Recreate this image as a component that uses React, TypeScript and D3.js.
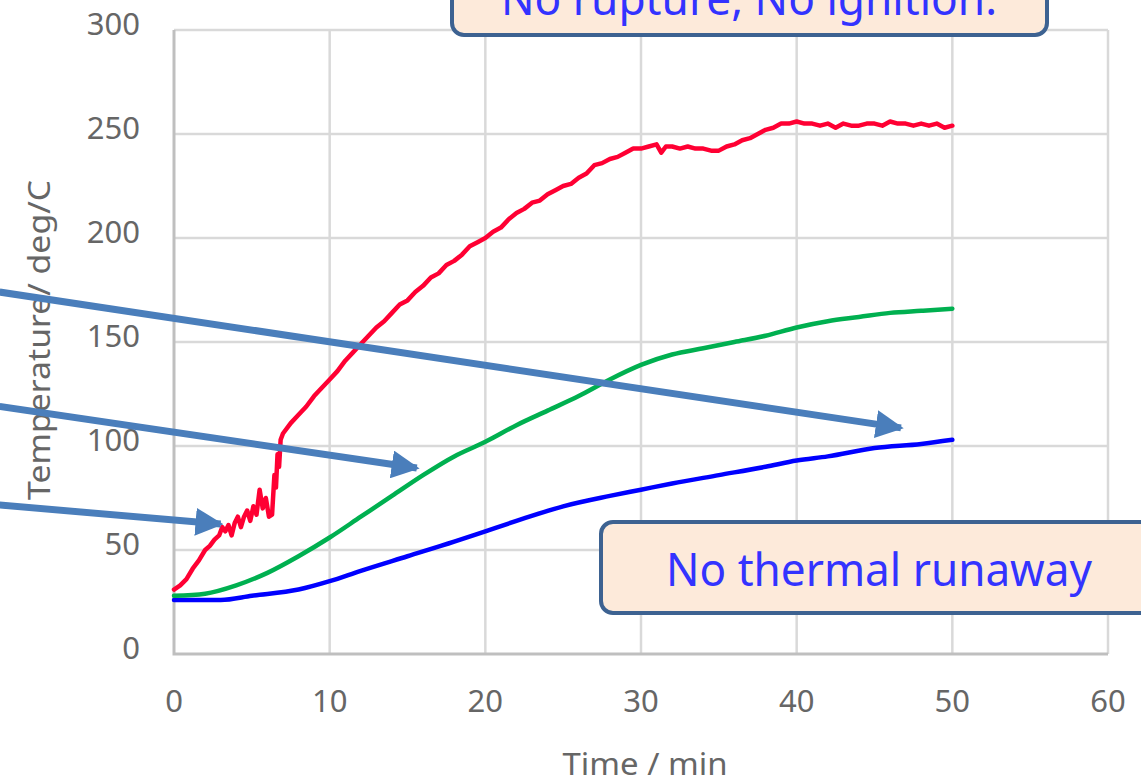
import React, { useEffect, useRef } from "react";
import * as d3 from "d3";

// time (min), temperature (deg C)
const redTime = [0, 0.4, 0.8, 1.2, 1.6, 2.0, 2.3, 2.6, 2.9, 3.1, 3.3, 3.5, 3.7, 3.9, 4.1, 4.3, 4.5, 4.7, 4.9, 5.1, 5.3, 5.5, 5.7, 5.9, 6.1, 6.3, 6.45, 6.55, 6.65, 6.75, 6.85, 7.0, 7.5, 8, 8.5, 9, 9.5, 10, 10.5, 11, 11.5, 12, 12.5, 13, 13.5, 14, 14.5, 15, 15.5, 16, 16.5, 17, 17.5, 18, 18.5, 19, 19.5, 20, 20.5, 21, 21.5, 22, 22.5, 23, 23.5, 24, 24.5, 25, 25.5, 26, 26.5, 27, 27.5, 28, 28.5, 29, 29.5, 30, 30.5, 31, 31.3, 31.6, 32, 32.5, 33, 33.5, 34, 34.5, 35, 35.5, 36, 36.5, 37, 37.5, 38, 38.5, 39, 39.5, 40, 40.5, 41, 41.5, 42, 42.5, 43, 43.5, 44, 44.5, 45, 45.5, 46, 46.5, 47, 47.5, 48, 48.5, 49, 49.5, 50];
const redTemp = [31, 33, 36, 41, 45, 50, 52, 55, 57, 61, 59, 62, 57, 63, 66, 61, 66, 69, 64, 71, 67, 79, 70, 75, 66, 67, 86, 80, 96, 90, 103, 106, 111, 115, 119, 124, 128, 132, 136, 141, 145, 149, 153, 157, 160, 164, 168, 170, 174, 177, 181, 183, 187, 189, 192, 196, 198, 200, 203, 205, 209, 212, 214, 217, 218, 221, 223, 225, 226, 229, 231, 235, 236, 238, 239, 241, 243, 243, 244, 245, 241, 244, 244, 243, 244, 243, 243, 242, 242, 244, 245, 247, 248, 250, 252, 253, 255, 255, 256, 255, 255, 254, 255, 253, 255, 254, 254, 255, 255, 254, 256, 255, 255, 254, 255, 254, 255, 253, 254];

const greenTime = [0, 2, 4, 6, 8, 10, 12, 14, 16, 18, 20, 22, 24, 26, 28, 30, 32, 34, 36, 38, 40, 42, 44, 46, 48, 50];
const greenTemp = [28, 29, 33, 39, 47, 56, 66, 76, 86, 95, 102, 110, 117, 124, 132, 139, 144, 147, 150, 153, 157, 160, 162, 164, 165, 166];

const blueTime = [0, 3, 5, 8, 10, 12, 15, 18, 20, 22, 25, 28, 30, 32, 35, 38, 40, 42, 45, 48, 50];
const blueTemp = [26, 26, 28, 31, 35, 40, 47, 54, 59, 64, 71, 76, 79, 82, 86, 90, 93, 95, 99, 101, 103];

const xTicks = [0, 10, 20, 30, 40, 50, 60];
const yTicks = [0, 50, 100, 150, 200, 250, 300];

// annotation arrows in data units: [x1, y1, x2, y2]
const arrows = [
  [-11.2, 174, 46.7, 108.7],
  [-11.2, 119, 15.6, 89.4],
  [-11.2, 71.6, 3.0, 62.5],
];

const topNote = "No rupture, No ignition.";
const bottomNote = "No thermal runaway";

const W = 1141;
const H = 783;
const FONT = "'Noto Sans', 'Open Sans', sans-serif";

export default function App() {
  const ref = useRef<SVGSVGElement>(null);

  useEffect(() => {
    const svg = d3.select(ref.current);
    const x = d3.scaleLinear().domain([0, 60]).range([174, 1108]);
    const y = d3.scaleLinear().domain([0, 300]).range([654, 30]);

    // grid
    svg
      .append("g")
      .selectAll("line")
      .data(xTicks.slice(1))
      .join("line")
      .attr("x1", d => x(d))
      .attr("x2", d => x(d))
      .attr("y1", y(0))
      .attr("y2", y(300))
      .attr("stroke", "#d9d9d9")
      .attr("stroke-width", 2.5);
    svg
      .append("g")
      .selectAll("line")
      .data(yTicks.slice(1))
      .join("line")
      .attr("x1", x(0))
      .attr("x2", x(60))
      .attr("y1", d => y(d))
      .attr("y2", d => y(d))
      .attr("stroke", "#d9d9d9")
      .attr("stroke-width", 2.5);

    // axes lines
    svg
      .append("path")
      .attr("d", `M${x(0)},${y(300)}V${y(0)}H${x(60)}`)
      .attr("fill", "none")
      .attr("stroke", "#bfbfbf")
      .attr("stroke-width", 3);

    // tick labels
    svg
      .append("g")
      .selectAll("text")
      .data(xTicks)
      .join("text")
      .attr("x", d => x(d))
      .attr("y", 712)
      .attr("text-anchor", "middle")
      .attr("font-size", 31)
      .attr("font-family", FONT)
      .attr("fill", "#666")
      .text(d => d);
    svg
      .append("g")
      .selectAll("text")
      .data(yTicks)
      .join("text")
      .attr("x", 140)
      .attr("y", d => y(d) + 5)
      .attr("text-anchor", "end")
      .attr("font-size", 31)
      .attr("font-family", FONT)
      .attr("fill", "#666")
      .text(d => d);

    // axis titles
    svg
      .append("text")
      .attr("x", 645)
      .attr("y", 775)
      .attr("text-anchor", "middle")
      .attr("font-size", 31)
      .attr("font-family", FONT)
      .attr("fill", "#666")
      .attr("textLength", 165)
      .attr("lengthAdjust", "spacingAndGlyphs")
      .text("Time / min");
    svg
      .append("text")
      .attr("transform", "translate(50,340) rotate(-90)")
      .attr("text-anchor", "middle")
      .attr("font-size", 31)
      .attr("font-family", FONT)
      .attr("fill", "#666")
      .attr("textLength", 320)
      .attr("lengthAdjust", "spacingAndGlyphs")
      .text("Temperature/ deg/C");

    // series
    const series = [
      { t: blueTime, v: blueTemp, color: "#0000ff", curve: d3.curveMonotoneX },
      { t: greenTime, v: greenTemp, color: "#00b050", curve: d3.curveMonotoneX },
      { t: redTime, v: redTemp, color: "#ff0033", curve: d3.curveLinear },
    ];
    svg
      .append("g")
      .selectAll("path")
      .data(series)
      .join("path")
      .attr("d", s =>
        d3
          .line<[number, number]>()
          .x(d => x(d[0]))
          .y(d => y(d[1]))
          .curve(s.curve)(s.t.map((t, i) => [t, s.v[i]] as [number, number]))
      )
      .attr("fill", "none")
      .attr("stroke", s => s.color)
      .attr("stroke-width", 4.5)
      .attr("stroke-linejoin", "round")
      .attr("stroke-linecap", "round");

    // arrows
    svg
      .append("defs")
      .append("marker")
      .attr("id", "head")
      .attr("viewBox", "0 0 10 10")
      .attr("refX", 9)
      .attr("refY", 5)
      .attr("markerWidth", 4)
      .attr("markerHeight", 4)
      .attr("markerUnits", "strokeWidth")
      .attr("orient", "auto")
      .append("path")
      .attr("d", "M0,0L10,5L0,10Z")
      .attr("fill", "#4a7ebb");
    svg
      .append("g")
      .selectAll("line")
      .data(arrows)
      .join("line")
      .attr("x1", d => x(d[0]))
      .attr("y1", d => y(d[1]))
      .attr("x2", d => x(d[2]))
      .attr("y2", d => y(d[3]))
      .attr("stroke", "#4a7ebb")
      .attr("stroke-width", 7)
      .attr("marker-end", "url(#head)");

    // note boxes
    const boxes = [
      { x0: 452, y0: -60, w: 595, h: 95, text: topNote, tx: 749, ty: 15, len: 496 },
      { x0: 601, y0: 522, w: 600, h: 91, text: bottomNote, tx: 879, ty: 586, len: 426 },
    ];
    const g = svg.append("g").selectAll("g").data(boxes).join("g");
    g.append("rect")
      .attr("x", d => d.x0)
      .attr("y", d => d.y0)
      .attr("width", d => d.w)
      .attr("height", d => d.h)
      .attr("rx", 12)
      .attr("fill", "#fdeada")
      .attr("stroke", "#3d6291")
      .attr("stroke-width", 4);
    g.append("text")
      .attr("x", d => d.tx)
      .attr("y", d => d.ty)
      .attr("text-anchor", "middle")
      .attr("font-size", 45)
      .attr("font-family", FONT)
      .attr("fill", "#3333ff")
      .attr("textLength", d => d.len)
      .attr("lengthAdjust", "spacingAndGlyphs")
      .text(d => d.text);

    return () => {
      svg.html("");
    };
  }, []);

  return (
    <svg
      ref={ref}
      width={W}
      height={H}
      style={{ position: "absolute", left: 0, top: 0, background: "#fff" }}
    />
  );
}
